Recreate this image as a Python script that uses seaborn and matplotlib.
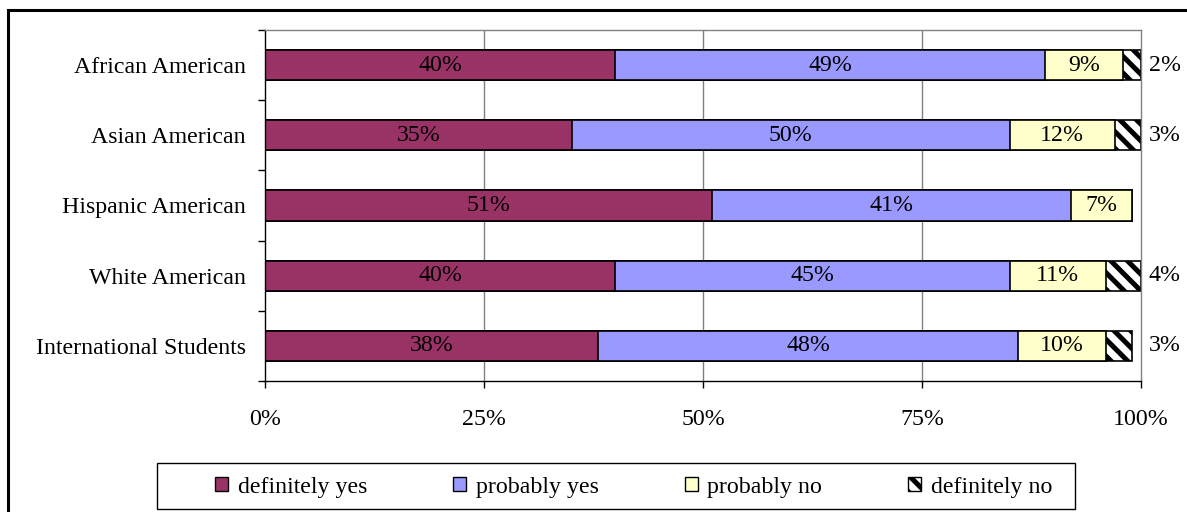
import matplotlib
matplotlib.use("Agg")
import matplotlib.pyplot as plt
from matplotlib.patches import Patch, Rectangle
from matplotlib.ticker import FixedLocator
import numpy as np
import pandas as pd
import seaborn as sns

# Survey responses by student group (percent of respondents)
groups = ["African American", "Asian American", "Hispanic American",
          "White American", "International Students"]
definitely_yes = [40, 35, 51, 40, 38]
probably_yes = [49, 50, 41, 45, 48]
probably_no = [9, 12, 7, 11, 10]
definitely_no = [2, 3, 0, 4, 3]

series_names = ["definitely yes", "probably yes", "probably no", "definitely no"]
x_ticks = [0, 25, 50, 75, 100]
x_tick_labels = ["0%", "25%", "50%", "75%", "100%"]

colors = ["#993366", "#9999FF", "#FFFFCC", "#FFFFFF"]
hatches = [None, None, None, "\\\\"]

sns.set_theme(style="white")
plt.rcParams["font.family"] = ["Liberation Serif", "DejaVu Serif"]
plt.rcParams["hatch.linewidth"] = 3.6
plt.rcParams["hatch.color"] = "black"
plt.rcParams["text.color"] = "black"
plt.rcParams["xtick.labelcolor"] = "black"
plt.rcParams["ytick.labelcolor"] = "black"

FS = 17.2

df = pd.DataFrame({
    "group": groups,
    "definitely yes": definitely_yes,
    "probably yes": probably_yes,
    "probably no": probably_no,
    "definitely no": definitely_no,
})
cum = df[series_names].cumsum(axis=1)
cum["group"] = df["group"]

fig = plt.figure(figsize=(11.87, 5.12), dpi=100)
ax = fig.add_axes([265 / 1187, 1 - 381 / 512, (1141 - 265) / 1187, (381 - 30) / 512])

# Stacked bars: draw cumulative totals from the outermost segment inwards
for name, col, hat in zip(series_names[::-1], colors[::-1], hatches[::-1]):
    sns.barplot(data=cum, x=name, y="group", order=groups, orient="h",
                color=col, saturation=1, edgecolor="black", linewidth=1.2,
                width=0.43, hatch=hat, errorbar=None, ax=ax)

# Segment value labels
starts = df[series_names].cumsum(axis=1) - df[series_names]
for i, g in enumerate(groups):
    for name in series_names[:3]:
        v = df.loc[i, name]
        c = starts.loc[i, name] + v / 2
        ax.text(c, i, f"{v}%", ha="center", va="center", fontsize=FS, color="black")
    dn = df.loc[i, "definitely no"]
    if dn > 0:
        ax.text(100.9, i, f"{dn}%", ha="left", va="center", fontsize=FS,
                color="black", clip_on=False)

ax.set_xlim(0, 100)
ax.set_ylim(4.5, -0.5)
ax.set_xlabel("")
ax.set_ylabel("")

ax.xaxis.set_major_locator(FixedLocator(x_ticks))
ax.set_xticklabels(x_tick_labels, fontsize=FS, color="black")
ax.tick_params(axis="x", which="major", direction="out", length=5, width=1,
               color="black", bottom=True, pad=15)

ax.set_yticks(range(len(groups)))
ax.set_yticklabels(groups, fontsize=FS, color="black")
ax.tick_params(axis="y", which="major", length=0, pad=14)
ax.yaxis.set_minor_locator(FixedLocator(np.arange(-0.5, len(groups), 1.0)))
ax.tick_params(axis="y", which="minor", direction="out", length=5, width=1,
               color="black", left=True)

ax.grid(False)
for x in x_ticks[1:-1]:
    ax.axvline(x, color="#808080", lw=1, zorder=0)

for side in ["left", "bottom"]:
    ax.spines[side].set_color("black")
    ax.spines[side].set_linewidth(1)
for side in ["top", "right"]:
    ax.spines[side].set_color("#808080")
    ax.spines[side].set_linewidth(1)
    ax.spines[side].set_visible(True)

# Legend
handles = [Patch(facecolor=c, edgecolor="black", hatch=h, linewidth=1)
           for c, h in zip(colors, hatches)]
leg = fig.legend(handles, series_names, loc="center",
                 bbox_to_anchor=(633.5 / 1187, 1 - 487 / 512), ncol=4,
                 frameon=False, fontsize=FS, handlelength=0.55,
                 handleheight=0.55, handletextpad=0.4, columnspacing=3.6,
                 borderaxespad=0)
for t in leg.get_texts():
    t.set_color("black")
fig.patches.append(Rectangle((157 / 1187, 1 - 509 / 512), (1075 - 157) / 1187,
                             (509 - 463) / 512, transform=fig.transFigure,
                             fill=False, edgecolor="black", linewidth=1))

# Outer chart frame
fig.patches.append(Rectangle((8 / 1187, -0.2), 1.2, 1 - 10 / 512 + 0.2,
                             transform=fig.transFigure, fill=False,
                             edgecolor="black", linewidth=2.2))

fig.savefig("out.png", dpi=100)
